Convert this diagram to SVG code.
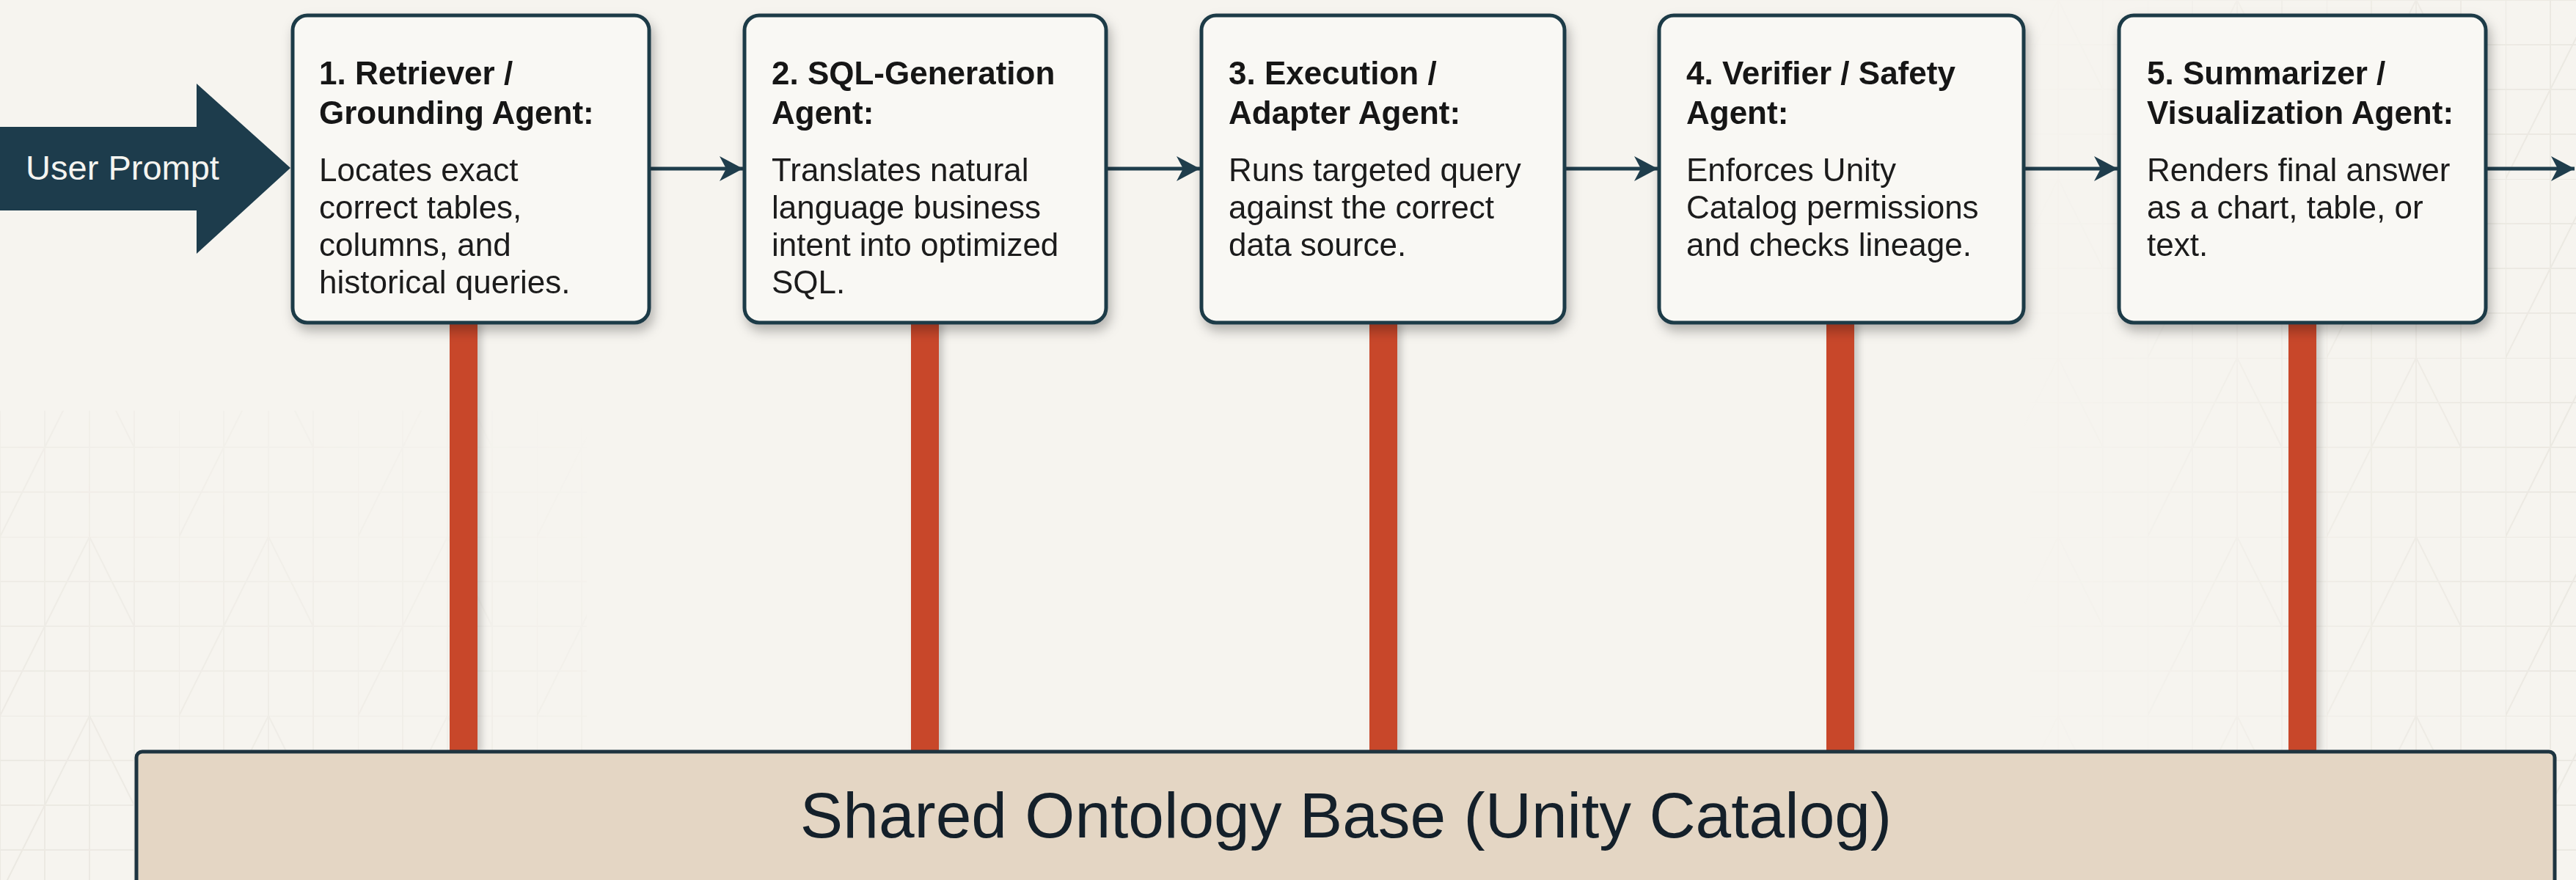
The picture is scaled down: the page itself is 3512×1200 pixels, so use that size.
<svg xmlns="http://www.w3.org/2000/svg" width="3512" height="1200" viewBox="0 0 3512 1200">
  <style>
    .box { fill: #f9f8f4; stroke: #1f3a47; stroke-width: 5; }
    .title { font-family: "Liberation Sans", Arial, sans-serif; font-weight: bold; font-size: 44px; fill: #141414; }
    .body { font-family: "Liberation Sans", Arial, sans-serif; font-size: 44px; fill: #1a1a1a; }
    .flow { stroke: #1f3d4c; stroke-width: 5; fill: none; }
    .bar { fill: #c8462c; }
    .gridline { stroke: #e8e5de; stroke-width: 2; fill: none; }
  </style>
  <defs>
    <marker id="head" markerUnits="userSpaceOnUse" markerWidth="34" markerHeight="38" refX="32" refY="19" orient="auto">
      <path d="M0,2 L32,19 L0,36 L9,19 z" fill="#1f3d4c"/>
    </marker>
    <filter id="shadow" x="-10%" y="-10%" width="130%" height="130%">
      <feDropShadow dx="4" dy="9" stdDeviation="8" flood-color="#000" flood-opacity="0.28"/>
    </filter>
    <filter id="barshadow" x="-50%" y="-5%" width="250%" height="110%">
      <feDropShadow dx="6" dy="0" stdDeviation="5" flood-color="#000" flood-opacity="0.18"/>
    </filter>
    <pattern id="grid" width="244" height="244" patternUnits="userSpaceOnUse">
      <path class="gridline" d="M0,0 V244 M61,0 V244 M122,0 V244 M183,0 V244 M0,0 H244 M0,61 H244 M0,122 H244 M0,183 H244 M0,244 L122,0 M122,0 L183,122"/>
    </pattern>
    <linearGradient id="fadeL" x1="0" y1="1" x2="1" y2="0">
      <stop offset="0" stop-color="#fff" stop-opacity="0.8"/>
      <stop offset="1" stop-color="#fff" stop-opacity="0"/>
    </linearGradient>
    <linearGradient id="fadeR" x1="1" y1="0" x2="0" y2="0">
      <stop offset="0" stop-color="#fff" stop-opacity="0.8"/>
      <stop offset="1" stop-color="#fff" stop-opacity="0"/>
    </linearGradient>
    <mask id="maskL"><rect x="0" y="560" width="800" height="640" fill="url(#fadeL)"/></mask>
    <mask id="maskR"><rect x="2750" y="0" width="762" height="1200" fill="url(#fadeR)"/></mask>
  </defs>

  <rect x="0" y="0" width="3512" height="1200" fill="#f6f4ef"/>
  <rect x="0" y="560" width="800" height="640" fill="url(#grid)" mask="url(#maskL)"/>
  <rect x="2750" y="0" width="762" height="1200" fill="url(#grid)" mask="url(#maskR)"/>

  <g id="connectors">
    <rect class="bar" x="613" y="440" width="38" height="586" filter="url(#barshadow)"/>
    <rect class="bar" x="1242" y="440" width="38" height="586" filter="url(#barshadow)"/>
    <rect class="bar" x="1867" y="440" width="38" height="586" filter="url(#barshadow)"/>
    <rect class="bar" x="2490" y="440" width="38" height="586" filter="url(#barshadow)"/>
    <rect class="bar" x="3120" y="440" width="38" height="586" filter="url(#barshadow)"/>
    <line class="flow" x1="887" y1="230" x2="1013" y2="230" marker-end="url(#head)"/>
    <line class="flow" x1="1510" y1="230" x2="1636" y2="230" marker-end="url(#head)"/>
    <line class="flow" x1="2135" y1="230" x2="2260" y2="230" marker-end="url(#head)"/>
    <line class="flow" x1="2761" y1="230" x2="2887" y2="230" marker-end="url(#head)"/>
    <line class="flow" x1="3391" y1="230" x2="3510" y2="230" marker-end="url(#head)"/>
  </g>

  <g id="user-prompt">
    <polygon points="0,173 268,173 268,114 396,229 268,346 268,287 0,287" fill="#1d3c4c"/>
    <text x="167" y="245" text-anchor="middle" font-family="'Liberation Sans', Arial, sans-serif" font-size="47" fill="#f4f4f0">User Prompt</text>
  </g>

  <g id="agent-1" filter="url(#shadow)">
    <rect class="box" x="399" y="21" width="486" height="419" rx="20"/>
    <text class="title" x="435" y="115">1. Retriever /</text>
    <text class="title" x="435" y="169">Grounding Agent:</text>
    <text class="body" x="435" y="247">Locates exact</text>
    <text class="body" x="435" y="298">correct tables,</text>
    <text class="body" x="435" y="349">columns, and</text>
    <text class="body" x="435" y="400">historical queries.</text>
  </g>

  <g id="agent-2" filter="url(#shadow)">
    <rect class="box" x="1015" y="21" width="493" height="419" rx="20"/>
    <text class="title" x="1052" y="115">2. SQL-Generation</text>
    <text class="title" x="1052" y="169">Agent:</text>
    <text class="body" x="1052" y="247">Translates natural</text>
    <text class="body" x="1052" y="298">language business</text>
    <text class="body" x="1052" y="349">intent into optimized</text>
    <text class="body" x="1052" y="400">SQL.</text>
  </g>

  <g id="agent-3" filter="url(#shadow)">
    <rect class="box" x="1638" y="21" width="495" height="419" rx="20"/>
    <text class="title" x="1675" y="115">3. Execution /</text>
    <text class="title" x="1675" y="169">Adapter Agent:</text>
    <text class="body" x="1675" y="247">Runs targeted query</text>
    <text class="body" x="1675" y="298">against the correct</text>
    <text class="body" x="1675" y="349">data source.</text>
  </g>

  <g id="agent-4" filter="url(#shadow)">
    <rect class="box" x="2262" y="21" width="497" height="419" rx="20"/>
    <text class="title" x="2299" y="115">4. Verifier / Safety</text>
    <text class="title" x="2299" y="169">Agent:</text>
    <text class="body" x="2299" y="247">Enforces Unity</text>
    <text class="body" x="2299" y="298">Catalog permissions</text>
    <text class="body" x="2299" y="349">and checks lineage.</text>
  </g>

  <g id="agent-5" filter="url(#shadow)">
    <rect class="box" x="2889" y="21" width="500" height="419" rx="20"/>
    <text class="title" x="2927" y="115">5. Summarizer /</text>
    <text class="title" x="2927" y="169">Visualization Agent:</text>
    <text class="body" x="2927" y="247">Renders final answer</text>
    <text class="body" x="2927" y="298">as a chart, table, or</text>
    <text class="body" x="2927" y="349">text.</text>
  </g>

  <g id="ontology-base">
    <rect x="186" y="1025" width="3297" height="200" rx="8" fill="#e4d6c4" stroke="#1e3440" stroke-width="5"/>
    <text x="1835" y="1142" text-anchor="middle" font-family="'Liberation Sans', Arial, sans-serif" font-size="87.5" fill="#14202a">Shared Ontology Base (Unity Catalog)</text>
  </g>
</svg>
